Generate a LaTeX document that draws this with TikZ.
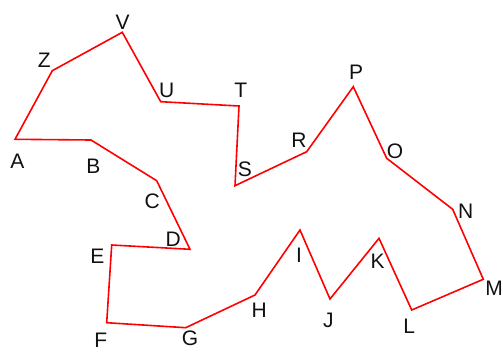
\documentclass[tikz,border=0pt]{standalone}
\usepackage{fontspec}
\setmainfont{Liberation Sans}
\usetikzlibrary{positioning}
\definecolor{clrline}{HTML}{FF0000}
\definecolor{clrtext}{HTML}{111111}

\begin{document}
\begin{tikzpicture}[
    x=1pt, y=-1pt,
    edge/.style={draw=clrline, line width=1.6pt, line join=miter},
    tag/.style={font=\fontsize{21}{24}\selectfont, text=clrtext, inner sep=0pt},
]
\useasboundingbox (0,0) rectangle (503,351);
% corners of the outline
\coordinate (A) at (15,139.3);
\coordinate (B) at (91,140);
\coordinate (C) at (156.7,180.7);
\coordinate (D) at (190,249.3);
\coordinate (E) at (111.7,245);
\coordinate (F) at (106.7,322.7);
\coordinate (G) at (185.7,327.7);
\coordinate (H) at (255,295);
\coordinate (I) at (300,230);
\coordinate (J) at (330,299);
\coordinate (K) at (379,238.3);
\coordinate (L) at (411.7,310);
\coordinate (M) at (483.3,279.3);
\coordinate (N) at (452.7,209.3);
\coordinate (O) at (386.7,158.3);
\coordinate (P) at (353.3,86.7);
\coordinate (R) at (306.7,151.7);
\coordinate (S) at (235,185.7);
\coordinate (T) at (239,106);
\coordinate (U) at (160.7,101.7);
\coordinate (V) at (122.3,32.3);
\coordinate (Z) at (52.3,70.7);
% letters
\node[tag] (t_A) at (17.3,161.7) {A};
\node[tag] (t_B) at (93.3,166) {B};
\node[tag] (t_C) at (152.3,201.7) {C};
\node[tag] (t_D) at (173.3,239) {D};
\node[tag] (t_E) at (97.3,256.7) {E};
\node[tag] (t_F) at (100.7,340) {F};
\node[tag] (t_G) at (190,338.5) {G};
\node[tag] (t_H) at (259.3,310) {H};
\node[tag] (t_I) at (299,255) {I};
\node[tag] (t_J) at (328.3,320) {J};
\node[tag] (t_K) at (377.7,261.7) {K};
\node[tag] (t_L) at (409.3,326.7) {L};
\node[tag] (t_M) at (494,288.3) {M};
\node[tag] (t_N) at (465.7,211.7) {N};
\node[tag] (t_O) at (395,151) {O};
\node[tag] (t_P) at (356,72.3) {P};
\node[tag] (t_R) at (299,140) {R};
\node[tag] (t_S) at (245,169.3) {S};
\node[tag] (t_T) at (240.7,90) {T};
\node[tag] (t_U) at (166.7,90.7) {U};
\node[tag] (t_V) at (122.7,22.7) {V};
\node[tag] (t_Z) at (44.3,60.7) {Z};
\draw[edge] (A) -- (Z) -- (V) -- (U) -- (T) -- (S) -- (R) -- (P) -- (O) -- (N) -- (M)
    -- (L) -- (K) -- (J) -- (I) -- (H) -- (G) -- (F) -- (E) -- (D) -- (C) -- (B) -- cycle;
\end{tikzpicture}
\end{document}
